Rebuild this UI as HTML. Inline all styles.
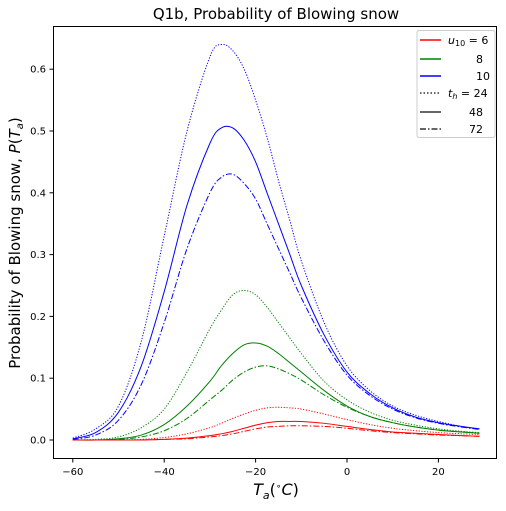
<!DOCTYPE html>
<html><head><meta charset="utf-8"><style>
body{margin:0;background:#fff;font-family:"Liberation Sans","DejaVu Sans",sans-serif}
</style></head><body>
<svg id="chart" width="506" height="506" xmlns="http://www.w3.org/2000/svg" font-family="'DejaVu Sans','Liberation Sans',sans-serif">
<rect width="506" height="506" fill="#fff"/>
<text x="276" y="19" font-size="15" text-anchor="middle">Q1b, Probability of Blowing snow</text>
<g id="plot"></g>
<rect x="53.5" y="26.5" width="443" height="432" fill="none" stroke="#000" stroke-width="1"/>
<g id="xticks"></g><g id="yticks"></g>
<text x="276" y="495" font-size="16" text-anchor="middle" font-style="italic">T<tspan font-size="11" dy="4">a</tspan><tspan dy="-4" font-style="normal">(</tspan><tspan font-size="9" dy="-6" font-style="normal">∘</tspan><tspan dy="6">C</tspan><tspan font-style="normal">)</tspan></text>
<text transform="translate(20,243) rotate(-90)" font-size="15" text-anchor="middle">Probability of Blowing snow, <tspan font-style="italic">P</tspan>(<tspan font-style="italic">T</tspan><tspan font-size="10" dy="3" font-style="italic">a</tspan><tspan dy="-3">)</tspan></text>
<g>
<rect x="417" y="30.5" width="78" height="107" rx="2" fill="#fff" fill-opacity="0.8" stroke="#ccc"/>
<g font-size="11">
<line x1="420" y1="40" x2="441" y2="40" stroke="red" stroke-width="1.5"/><text x="448" y="44" font-style="italic">u<tspan font-size="8" dy="2" font-style="normal">10</tspan><tspan dy="-2" font-style="normal"> = 6</tspan></text>
<line x1="420" y1="59" x2="441" y2="59" stroke="green" stroke-width="1.5"/><text x="483" y="63" text-anchor="end">8</text>
<line x1="420" y1="76" x2="441" y2="76" stroke="blue" stroke-width="1.5"/><text x="490" y="80" text-anchor="end">10</text>
<line x1="420" y1="93" x2="441" y2="93" stroke="#333" stroke-width="1.5" stroke-dasharray="1.5,2"/><text x="448" y="97" font-style="italic">t<tspan font-size="8" dy="2">h</tspan><tspan dy="-2" font-style="normal"> = 24</tspan></text>
<line x1="420" y1="112" x2="441" y2="112" stroke="#333" stroke-width="1.5"/><text x="483" y="116" text-anchor="end">48</text>
<line x1="420" y1="129" x2="441" y2="129" stroke="#333" stroke-width="1.5" stroke-dasharray="6,2,1.5,2"/><text x="483" y="133" text-anchor="end">72</text>
</g></g>
</svg>
<script>
const temps=[-60,-55,-50,-45,-40,-35,-30,-27.5,-25,-22.5,-20,-17.5,-15,-12.5,-10,-5,0,5,10,15,20,25,29];
const blue24=[.003,.018,.055,.16,.33,.50,.62,.64,.63,.60,.55,.49,.42,.355,.29,.19,.12,.08,.055,.04,.03,.022,.018];
const blue48=[.002,.012,.045,.12,.24,.38,.48,.505,.505,.485,.45,.40,.35,.30,.25,.17,.11,.075,.052,.037,.028,.022,.018];
const blue72=[.001,.008,.032,.09,.19,.31,.40,.425,.43,.415,.39,.35,.31,.27,.23,.16,.105,.072,.05,.036,.027,.021,.017];
const green24=[0,.001,.005,.02,.05,.11,.18,.21,.235,.242,.235,.215,.19,.165,.14,.095,.065,.045,.032,.024,.018,.014,.012];
const green48=[0,0,.002,.008,.025,.055,.095,.12,.14,.154,.157,.152,.14,.125,.11,.08,.055,.038,.028,.021,.016,.013,.011];
const green72=[0,0,.001,.005,.015,.035,.065,.08,.097,.11,.118,.12,.115,.107,.097,.073,.053,.038,.028,.021,.016,.013,.011];
const red24=[0,0,0,.001,.004,.01,.02,.027,.035,.042,.048,.052,.053,.052,.05,.042,.033,.025,.019,.015,.012,.01,.009];
const red48=[0,0,0,0,.001,.003,.007,.01,.014,.019,.024,.028,.03,.03,.03,.027,.022,.017,.013,.011,.009,.007,.006];
const red72=[0,0,0,0,.001,.002,.005,.007,.01,.014,.018,.021,.022,.023,.023,.022,.019,.015,.012,.01,.008,.007,.006];
const xTicks=[-60,-40,-20,0,20];
const yTicks=[0,0.1,0.2,0.3,0.4,0.5,0.6];
const NS='http://www.w3.org/2000/svg';
function xs(t){return 347+4.57*t;}
function ys(v){return 440-618*v;}
function pathFor(vals){
  const p=temps.map((t,i)=>[xs(t),ys(vals[i])]);
  let d='M'+p[0][0].toFixed(2)+','+p[0][1].toFixed(2);
  for(let i=0;i<p.length-1;i++){
    const p0=p[Math.max(0,i-1)],p1=p[i],p2=p[i+1],p3=p[Math.min(p.length-1,i+2)];
    const c1=[p1[0]+(p2[0]-p0[0])/6,p1[1]+(p2[1]-p0[1])/6];
    const c2=[p2[0]-(p3[0]-p1[0])/6,p2[1]-(p3[1]-p1[1])/6];
    d+='C'+c1.map(v=>v.toFixed(2)).join(',')+' '+c2.map(v=>v.toFixed(2)).join(',')+' '+p2.map(v=>v.toFixed(2)).join(',');
  }
  return d;
}
const plot=document.getElementById('plot');
const series=[[blue24,'blue','1.2,1.6','blue-th24'],[blue48,'blue','','blue-th48'],[blue72,'blue','6,2,1.5,2','blue-th72'],
[green24,'green','1.2,1.6','green-th24'],[green48,'green','','green-th48'],[green72,'green','6,2,1.5,2','green-th72'],
[red24,'red','1.2,1.6','red-th24'],[red48,'red','','red-th48'],[red72,'red','6,2,1.5,2','red-th72']];
series.forEach(s=>{
  const el=document.createElementNS(NS,'path');
  el.setAttribute('d',pathFor(s[0]));
  el.setAttribute('fill','none');el.setAttribute('stroke',s[1]);el.setAttribute('stroke-width','1');
  if(s[2])el.setAttribute('stroke-dasharray',s[2]);
  
  
  plot.appendChild(el);
});
const xg=document.getElementById('xticks');
xTicks.forEach(t=>{
  const x=xs(t);
  const l=document.createElementNS(NS,'line');
  l.setAttribute('x1',x);l.setAttribute('x2',x);l.setAttribute('y1',459);l.setAttribute('y2',462.5);l.setAttribute('stroke','#000');
  
  
  xg.appendChild(l);
  const tx=document.createElementNS(NS,'text');
  tx.setAttribute('x',x);tx.setAttribute('y',475);tx.setAttribute('font-size','10');tx.setAttribute('text-anchor','middle');
  tx.textContent=(t<0?'\u2212'+(-t):''+t);
  
  
  xg.appendChild(tx);
});
const yg=document.getElementById('yticks');
yTicks.forEach(v=>{
  const y=ys(v);
  const l=document.createElementNS(NS,'line');
  l.setAttribute('x1',49.5);l.setAttribute('x2',53);l.setAttribute('y1',y);l.setAttribute('y2',y);l.setAttribute('stroke','#000');
  
  
  yg.appendChild(l);
  const tx=document.createElementNS(NS,'text');
  tx.setAttribute('x',46);tx.setAttribute('y',y+3.5);tx.setAttribute('font-size','10');tx.setAttribute('text-anchor','end');
  tx.textContent=v.toFixed(1);
  
  
  yg.appendChild(tx);
});
</script>
</body></html>
